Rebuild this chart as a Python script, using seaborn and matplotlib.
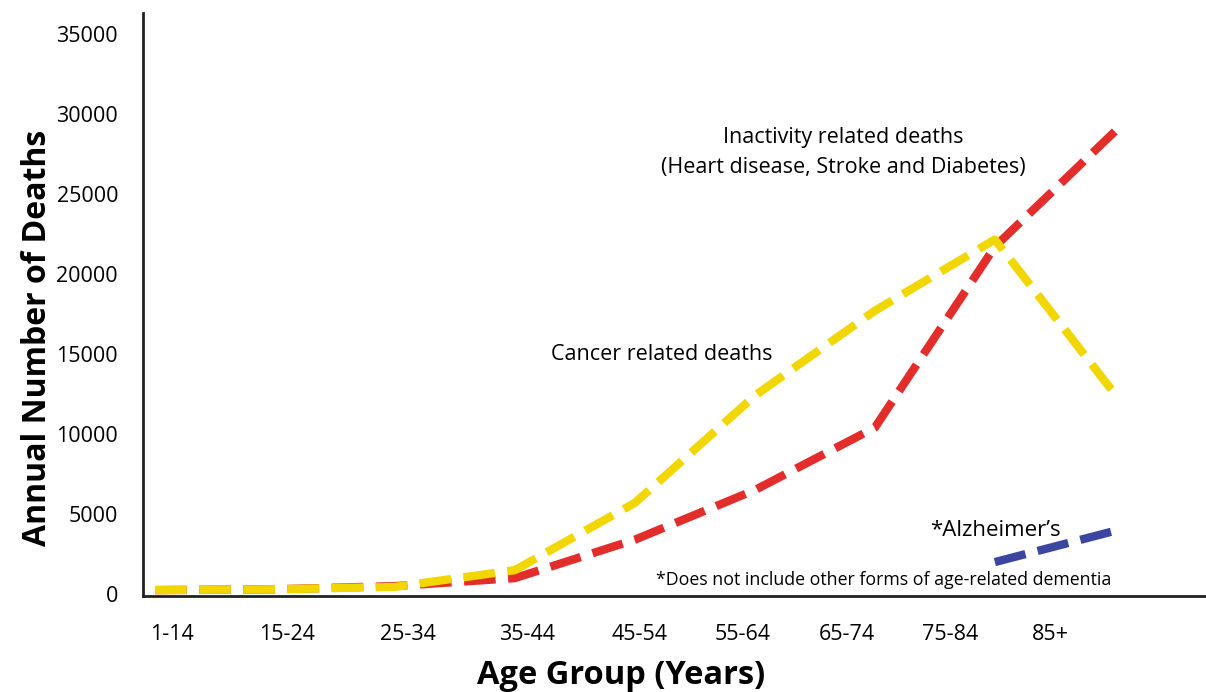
import numpy as np
import pandas as pd
import matplotlib
matplotlib.use("Agg")
import matplotlib.pyplot as plt
import seaborn as sns


# =========================
# Data
# =========================

AGE_GROUPS = ["1-14", "15-24", "25-34", "35-44", "45-54", "55-64", "65-74", "75-84", "85+"]

INACTIVITY_DEATHS = [250, 300, 500, 1000, 3400, 6500, 10400, 21700, 28900]
CANCER_DEATHS = [250, 300, 450, 1500, 5700, 12400, 17700, 22150, 12500]
ALZHEIMER_GROUPS = ["75-84", "85+"]
ALZHEIMER_DEATHS = [2000, 3950]

Y_TICKS = [0, 5000, 10000, 15000, 20000, 25000, 30000, 35000]

# label positions in the picture are not centred on the data points
X_LABEL_POS = [0.14, 1.1, 2.11, 3.1, 4.04, 4.9, 5.77, 6.63, 7.46]


# =========================
# Style
# =========================

sns.set_style("white")
plt.rcParams["font.family"] = ["Open Sans", "DejaVu Sans"]
plt.rcParams["text.color"] = "black"
plt.rcParams["axes.labelcolor"] = "black"

YELLOW = "#F2D600"
RED = "#E32D2A"
BLUE = "#3B46A0"
DASH = (0, (3.8, 1.5))
LW = 6.0

idx = {g: i for i, g in enumerate(AGE_GROUPS)}
df = pd.DataFrame({
    "pos": np.arange(len(AGE_GROUPS)),
    "inactivity": INACTIVITY_DEATHS,
    "cancer": CANCER_DEATHS,
})
alz = pd.DataFrame({
    "pos": [idx[g] for g in ALZHEIMER_GROUPS],
    "deaths": ALZHEIMER_DEATHS,
})

fig = plt.figure(figsize=(12.06, 6.92), dpi=100)
ax = fig.add_axes([0.1186, 0.1387, 0.8814, 0.8425])

sns.lineplot(data=df, x="pos", y="inactivity", ax=ax, color=RED,
             linewidth=LW, linestyle=DASH, dash_capstyle="butt")
sns.lineplot(data=df, x="pos", y="cancer", ax=ax, color=YELLOW,
             linewidth=LW, linestyle=DASH, dash_capstyle="butt")
sns.lineplot(data=alz, x="pos", y="deaths", ax=ax, color=BLUE,
             linewidth=LW, linestyle=DASH, dash_capstyle="butt")

ax.set_xlim(-0.1, 8.76)
ax.set_ylim(-120, 36300)

ax.set_xticks(X_LABEL_POS)
ax.set_xticklabels(AGE_GROUPS)
ax.set_yticks(Y_TICKS)
ax.set_yticklabels([str(v) for v in Y_TICKS])
ax.tick_params(axis="both", length=0, labelsize=15.5, colors="black")
ax.tick_params(axis="x", pad=20)
ax.tick_params(axis="y", pad=18)

sns.despine(ax=ax, top=True, right=True)
for side in ["left", "bottom"]:
    ax.spines[side].set_linewidth(2.0)
    ax.spines[side].set_color("#222222")

ax.set_xlabel("Age Group (Years)", fontsize=23.5, fontweight="bold")
ax.set_ylabel("Annual Number of Deaths", fontsize=23, fontweight="bold")
ax.xaxis.label.set_va("center")
ax.yaxis.label.set_va("center")
ax.xaxis.set_label_coords(0.45, -0.136)
ax.yaxis.set_label_coords(-0.099, 0.4425)

# annotations
ax.text(5.74, 28500, "Inactivity related deaths", fontsize=15.5, ha="center", va="center")
ax.text(5.74, 26630, "(Heart disease, Stroke and Diabetes)", fontsize=15.5,
        ha="center", va="center")
ax.text(4.22, 14940, "Cancer related deaths", fontsize=15.5, ha="center", va="center")
ax.text(7.0, 4000, "*Alzheimer\u2019s", fontsize=16, ha="center", va="center")
ax.text(6.07, 880, "*Does not include other forms of age-related dementia",
        fontsize=12.8, ha="center", va="center")

fig.savefig("out.png", dpi=100)
